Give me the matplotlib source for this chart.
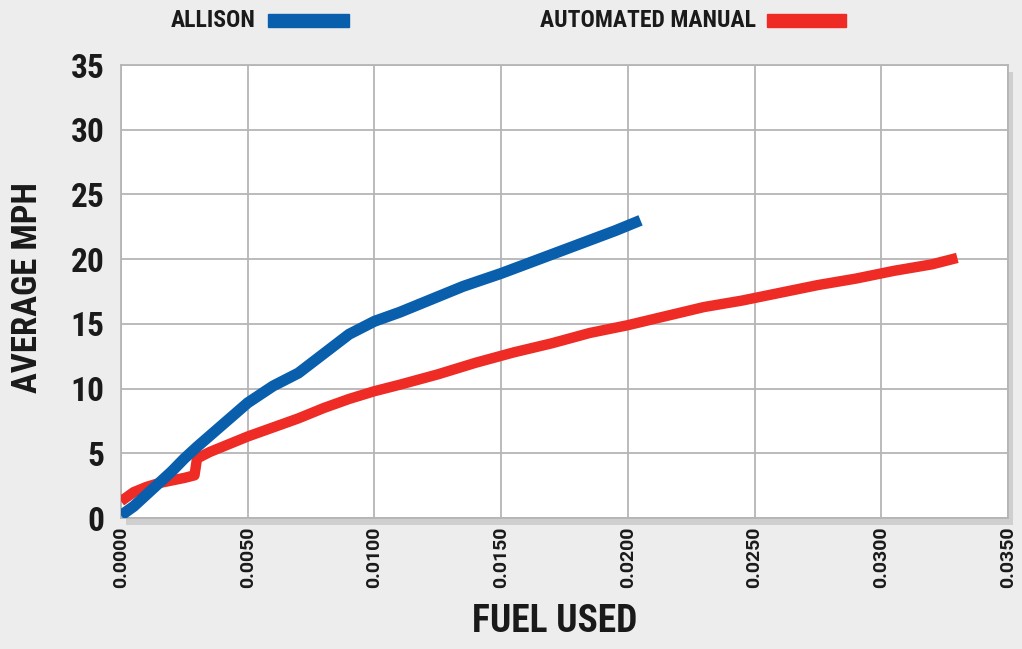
import matplotlib.pyplot as plt
import numpy as np
from matplotlib import font_manager

# pick a narrow bold font if one is installed
cands = ['Roboto Condensed', 'Open Sans Condensed', 'Liberation Sans Narrow', 'DejaVu Sans']
names = set(f.name for f in font_manager.fontManager.ttflist)
narrow = [c for c in cands if c in names][0]
stretch = 'condensed'

# data
allison_fuel = [0.0000, 0.0005, 0.0010, 0.0015, 0.0020, 0.0025, 0.0030, 0.0040,
                0.0050, 0.0060, 0.0070, 0.0080, 0.0090, 0.0100, 0.0110, 0.0120,
                0.0135, 0.0150, 0.0165, 0.0180, 0.0195, 0.0205]
allison_mph = [0.2, 0.9, 1.8, 2.7, 3.6, 4.6, 5.5, 7.2,
               8.9, 10.2, 11.2, 12.7, 14.2, 15.2, 15.9, 16.7,
               17.9, 18.9, 20.0, 21.1, 22.2, 23.0]

manual_fuel = [0.0000, 0.0005, 0.0010, 0.0015, 0.0020, 0.0025, 0.0029, 0.0030,
               0.0035, 0.0040, 0.0050, 0.0060, 0.0070, 0.0080, 0.0090, 0.0100,
               0.0110, 0.0125, 0.0140, 0.0155, 0.0170, 0.0185, 0.0200, 0.0215,
               0.0230, 0.0245, 0.0260, 0.0275, 0.0290, 0.0305, 0.0320, 0.0330]
manual_mph = [1.3, 2.0, 2.4, 2.7, 2.9, 3.1, 3.3, 4.6,
              5.1, 5.5, 6.3, 7.0, 7.7, 8.5, 9.2, 9.8,
              10.3, 11.1, 12.0, 12.8, 13.5, 14.3, 14.9, 15.6,
              16.3, 16.8, 17.4, 18.0, 18.5, 19.1, 19.6, 20.1]

x_ticks = [0.0, 0.005, 0.010, 0.015, 0.020, 0.025, 0.030, 0.035]
y_ticks = [0, 5, 10, 15, 20, 25, 30, 35]

blue = '#0a5fad'
red = '#ee2b24'
ink = '#1a1a1a'

fig = plt.figure(figsize=(10.22, 6.49), dpi=100)
fig.patch.set_facecolor('#ededed')

# drop shadow behind plot area
sh = fig.add_axes([0.1184 + 0.005, 0.2018 - 0.010, 0.8679, 0.698])
sh.set_facecolor('#cfcfcf')
sh.set_xticks([]); sh.set_yticks([])
for s in sh.spines.values():
    s.set_visible(False)

ax = fig.add_axes([0.1184, 0.2018, 0.8679, 0.698])
ax.set_facecolor('white')
ax.plot(manual_fuel, manual_mph, color=red, lw=7.5, solid_capstyle='butt', zorder=3)
ax.plot(allison_fuel, allison_mph, color=blue, lw=8, solid_capstyle='butt', zorder=4)

ax.set_xlim(0, 0.035)
ax.set_ylim(0, 35)
ax.set_xticks(x_ticks)
ax.set_yticks(y_ticks)
ax.set_xticklabels(['%.4f' % v for v in x_ticks], rotation=90,
                   fontsize=14, fontweight='bold', family='Roboto', color=ink)
ax.set_yticklabels([str(v) for v in y_ticks], fontsize=24, fontweight='bold',
                   family=narrow, fontstretch=stretch, color=ink)
ax.tick_params(axis='x', length=0, pad=6)
ax.tick_params(axis='y', length=0, pad=12)
ax.grid(True, color='#b5b5b5', lw=1.3)
ax.set_axisbelow(True)
for s in ax.spines.values():
    s.set_color('#b5b5b5')
    s.set_linewidth(1.3)

fig.text(0.027, 0.557, 'AVERAGE MPH', rotation=90, ha='center', va='center',
         fontsize=25, fontweight='bold', family=narrow, fontstretch=stretch, color=ink)
fig.text(0.543, 0.042, 'FUEL USED', ha='center', va='center',
         fontsize=27, fontweight='bold', family=narrow, fontstretch=stretch, color=ink)

# legend at top
fig.text(0.250, 0.968, 'ALLISON', ha='right', va='center',
         fontsize=17, fontweight='bold', family=narrow, fontstretch=stretch, color=ink)
fig.patches.append(plt.Rectangle((0.262, 0.959), 0.079, 0.019, transform=fig.transFigure,
                                 color=blue, figure=fig))
fig.text(0.740, 0.968, 'AUTOMATED MANUAL', ha='right', va='center',
         fontsize=17, fontweight='bold', family=narrow, fontstretch=stretch, color=ink)
fig.patches.append(plt.Rectangle((0.750, 0.959), 0.078, 0.019, transform=fig.transFigure,
                                 color=red, figure=fig))

fig.savefig('out.png', dpi=100, facecolor=fig.get_facecolor())
